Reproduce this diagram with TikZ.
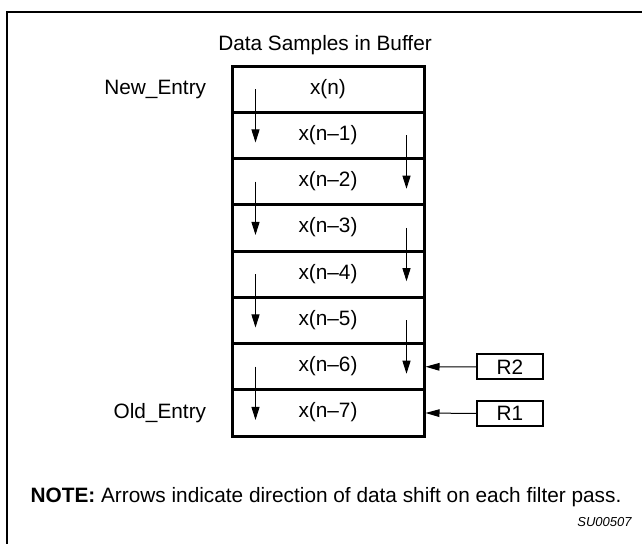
\documentclass[tikz,border=0pt]{standalone}
\usepackage{fontspec}
\setmainfont{Liberation Sans}
\usetikzlibrary{arrows.meta,calc}
\begin{document}
\begin{tikzpicture}[x=0.5pt,y=-0.5pt,
  lbl/.style={font=\fontsize{10.4}{12}\selectfont, inner sep=0pt},
  cell/.style={draw, line width=1.5pt, minimum width=96pt, minimum height=23.125pt,
    inner sep=0pt, font=\fontsize{10.4}{12}\selectfont},
  reg/.style={draw, line width=1pt, minimum width=33pt, minimum height=12.5pt,
    inner sep=0pt, font=\fontsize{10.4}{12}\selectfont},
  shiftarrow/.style={line width=0.5pt, -{Triangle[length=6.5pt,width=4pt]}},
  loadarrow/.style={line width=0.5pt, -{Triangle[length=7pt,width=3.8pt]}}]
\useasboundingbox (0,0) rectangle (642,544);

% outer frame (only top and left edges fall inside the page)
\draw[line width=1.2pt] (7,570) -- (7,12) -- (670,12);

% buffer cells
\foreach \i/\t in {0/x(n),1/x(n--1),2/x(n--2),3/x(n--3),4/x(n--4),5/x(n--5),6/x(n--6),7/x(n--7)}
  \node[cell] (r\i) at (328,{89.25+46.25*\i}) {\strut\t};

\node[lbl] (title) at (325,45) {Data Samples in Buffer};
\node[lbl, anchor=east] (new) at ($(r0.west)+(-24,0)$) {New\_Entry};
\node[lbl, anchor=east] (old) at ($(r7.west)+(-24,0)$) {Old\_Entry};

% shift arrows, alternating between the left and right sides
\foreach \a/\b in {0/1,2/3,4/5,6/7}
  \draw[shiftarrow] ($(r\a.west)+(25,0)$) -- ($(r\b.west)+(25,7)$);
\foreach \a/\b in {1/2,3/4,5/6}
  \draw[shiftarrow] ($(r\a.east)+(-19,0)$) -- ($(r\b.east)+(-19,7)$);

% registers feeding the bottom cells
\node[reg] (R2) at (510,367) {R2};
\node[reg] (R1) at (510,413.5) {R1};
\draw[loadarrow] (R2.west) -- (r6.east);
\draw[loadarrow] (R1.west) -- (r7.east);

\node[lbl] (note) at (326,497) {\textbf{NOTE:} Arrows indicate direction of data shift on each filter pass.};
\node[inner sep=0pt, anchor=east, font=\fontsize{6.5}{8}\selectfont\itshape] (fig) at (632,522) {SU00507};
\end{tikzpicture}
\end{document}
